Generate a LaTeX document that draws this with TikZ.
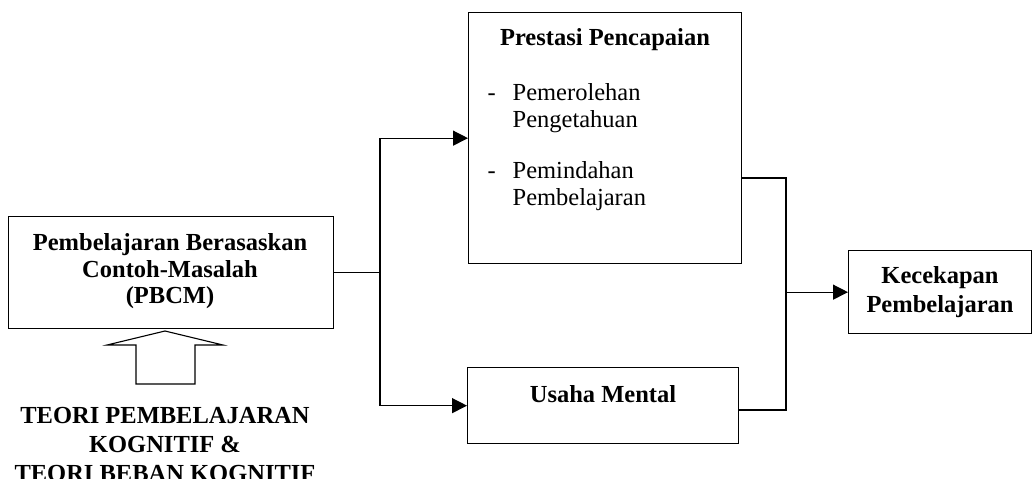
\documentclass[tikz,border=0pt]{standalone}
\usepackage{fontspec}
\setmainfont{Liberation Serif}
\usetikzlibrary{arrows.meta}
\begin{document}
\begin{tikzpicture}[x=1pt,y=-1pt, line width=1.3pt,
  box/.style={draw, inner sep=0pt, anchor=north west},
  lbl/.style={font=\fontsize{24.5}{28}\selectfont\bfseries, anchor=base, inner sep=0pt},
  item/.style={font=\fontsize{24.5}{28}\selectfont, anchor=base west, inner sep=0pt},
  arr/.style={-{Triangle[length=15pt,width=15pt]}}]
\path[use as bounding box] (0,0) rectangle (1033,479);
\clip (0,0) rectangle (1033,479);
% boxes
\node[box, minimum width=325pt, minimum height=112pt] (pbcm) at (8,216) {};
\node[box, minimum width=273pt, minimum height=251pt] (top) at (468,12) {};
\node[box, minimum width=271pt, minimum height=76pt] (usaha) at (467,367) {};
\node[box, minimum width=183pt, minimum height=83pt] (kec) at (848,250) {};
% texts
\node[lbl] (p1) at (170,250) {Pembelajaran Berasaskan};
\node[lbl] (p2) at (170,277) {Contoh-Masalah};
\node[lbl] (p3) at (170,303) {(PBCM)};
\node[lbl] (t0) at (605,45) {Prestasi Pencapaian};
\node[item] (d1) at (487,100) {-};
\node[item] (i1) at (512,100) {Pemerolehan};
\node[item] (i2) at (512,127) {Pengetahuan};
\node[item] (d2) at (487,178) {-};
\node[item] (i3) at (512,178) {Pemindahan};
\node[item] (i4) at (512,205) {Pembelajaran};
\node[lbl] (u0) at (603,402) {Usaha Mental};
\node[lbl] (k1) at (940,283) {Kecekapan};
\node[lbl] (k2) at (940,312) {Pembelajaran};
\node[lbl] (th1) at (165,423) {TEORI PEMBELAJARAN};
\node[lbl] (th2) at (165,452) {KOGNITIF \&};
\node[lbl] (th3) at (165,481) {TEORI BEBAN KOGNITIF};
% hollow block arrow
\draw[line width=1.1pt] (165,331) -- (223,345) -- (195,345) -- (195,384) -- (136,384) -- (136,345) -- (107,345) -- cycle;
% connectors
\coordinate (j1) at (pbcm.east -| 380,0);
\draw (pbcm.east) -- (j1);
\draw[arr] (j1) |- (top.west);
\draw[arr] (j1) |- (usaha.west);
\coordinate (j2) at (786,178);
\coordinate (j3) at (786,410);
\coordinate (j4) at (kec.west -| j2);
\draw (top.east |- j2) -- (j2) -- (j3) -- (usaha.east |- j3);
\draw[arr] (j4) -- (kec.west);
\end{tikzpicture}
\end{document}
